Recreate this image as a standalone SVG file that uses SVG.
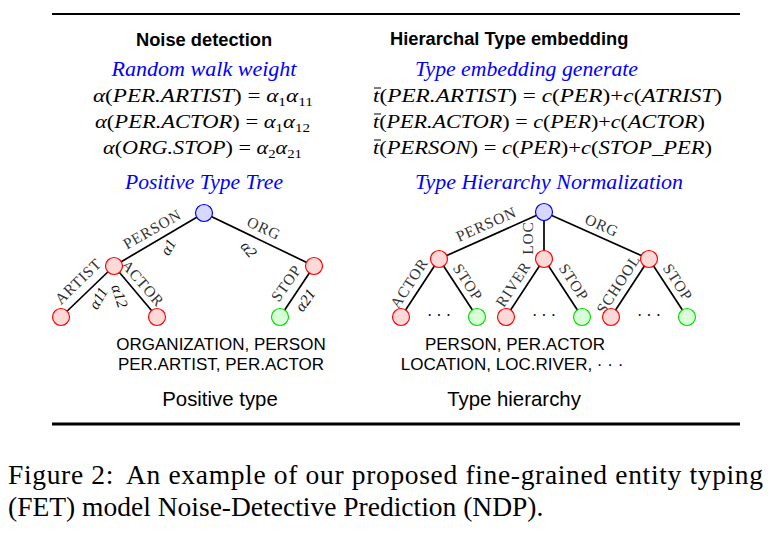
<svg xmlns="http://www.w3.org/2000/svg" width="776" height="536" viewBox="0 0 776 536">
<style>
.hd{font-family:"Liberation Sans",Arial,sans-serif;font-weight:bold;font-size:18.3px;fill:#000}
.bl{font-family:"Liberation Serif","Times New Roman",serif;font-style:italic;font-size:21px;fill:#0000ff}
.eq{font-family:"Liberation Serif","Times New Roman",serif;font-style:italic;font-size:19.5px;fill:#000}
.n{font-style:normal}
.sb{font-size:13px;font-style:normal}
.el{font-family:"Liberation Serif","Times New Roman",serif;font-size:15.5px;letter-spacing:0.8px;fill:#333;text-anchor:middle;dominant-baseline:central}
.al{font-family:"Liberation Serif","Times New Roman",serif;font-style:italic;font-size:15.5px;fill:#111;text-anchor:middle;dominant-baseline:central}
.lb{font-family:"Liberation Sans",Arial,sans-serif;font-size:17px;fill:#000;text-anchor:middle}
.lb2{font-family:"Liberation Sans",Arial,sans-serif;font-size:20.4px;fill:#000;text-anchor:middle}
.cap{font-family:"Liberation Serif","Times New Roman",serif;font-size:27.5px;fill:#000}
.edge{stroke:#000;stroke-width:1.7;fill:none}
.rule{stroke:#000;fill:none}
.r{fill:#ffd8d8;stroke:#ff0000;stroke-width:1.2}
.b{fill:#d8d8ff;stroke:#0000ff;stroke-width:1.2}
.g{fill:#d8ffd8;stroke:#00dd00;stroke-width:1.2}
.dots{font-family:"Liberation Serif",serif;font-size:16px;fill:#000;text-anchor:middle}
</style>

<g id="rules">
<line class="rule" x1="52" y1="14" x2="740" y2="14" stroke-width="2"/>
<line class="rule" x1="52" y1="424" x2="740" y2="424" stroke-width="3"/>
</g>

<g id="headings">
<text class="hd" x="204" y="46" text-anchor="middle">Noise detection</text>
<text class="hd" x="390" y="45">Hierarchal Type embedding</text>
<text class="bl" x="204" y="76" text-anchor="middle" textLength="185" lengthAdjust="spacingAndGlyphs">Random walk weight</text>
<text class="bl" x="204" y="189" text-anchor="middle" textLength="158" lengthAdjust="spacingAndGlyphs">Positive Type Tree</text>
<text class="bl" x="415" y="76" textLength="223" lengthAdjust="spacingAndGlyphs">Type embedding generate</text>
<text class="bl" x="415" y="189" textLength="268" lengthAdjust="spacingAndGlyphs">Type Hierarchy Normalization</text>
</g>

<g id="equations">
<text class="eq" x="93" y="102" textLength="220" lengthAdjust="spacingAndGlyphs">α<tspan class="n">(</tspan>PER.ARTIST<tspan class="n">) = </tspan>α<tspan class="sb" dy="4">1</tspan><tspan dy="-4">α</tspan><tspan class="sb" dy="4">11</tspan></text>
<text class="eq" x="95" y="128" textLength="215" lengthAdjust="spacingAndGlyphs">α<tspan class="n">(</tspan>PER.ACTOR<tspan class="n">) = </tspan>α<tspan class="sb" dy="4">1</tspan><tspan dy="-4">α</tspan><tspan class="sb" dy="4">12</tspan></text>
<text class="eq" x="103" y="154" textLength="199" lengthAdjust="spacingAndGlyphs">α<tspan class="n">(</tspan>ORG.STOP<tspan class="n">) = </tspan>α<tspan class="sb" dy="4">2</tspan><tspan dy="-4">α</tspan><tspan class="sb" dy="4">21</tspan></text>

<text class="eq" x="373" y="102" textLength="349" lengthAdjust="spacingAndGlyphs">t<tspan class="n">(</tspan>PER.ARTIST<tspan class="n">) = </tspan>c<tspan class="n">(</tspan>PER<tspan class="n">)+</tspan>c<tspan class="n">(</tspan>ATRIST<tspan class="n">)</tspan></text>
<text class="eq" x="373" y="128" textLength="332" lengthAdjust="spacingAndGlyphs">t<tspan class="n">(</tspan>PER.ACTOR<tspan class="n">) = </tspan>c<tspan class="n">(</tspan>PER<tspan class="n">)+</tspan>c<tspan class="n">(</tspan>ACTOR<tspan class="n">)</tspan></text>
<text class="eq" x="373" y="154" textLength="339" lengthAdjust="spacingAndGlyphs">t<tspan class="n">(</tspan>PERSON<tspan class="n">) = </tspan>c<tspan class="n">(</tspan>PER<tspan class="n">)+</tspan>c<tspan class="n">(</tspan>STOP_PER<tspan class="n">)</tspan></text>
<line x1="374" y1="88" x2="381" y2="88" stroke="#000" stroke-width="1"/>
<line x1="374" y1="114" x2="381" y2="114" stroke="#000" stroke-width="1"/>
<line x1="374" y1="140" x2="381" y2="140" stroke="#000" stroke-width="1"/>
</g>

<g id="connectors">
<line class="edge" x1="204" y1="213" x2="114" y2="266"/>
<line class="edge" x1="204" y1="213" x2="314" y2="266"/>
<line class="edge" x1="114" y1="266" x2="61" y2="317"/>
<line class="edge" x1="114" y1="266" x2="157" y2="317"/>
<line class="edge" x1="314" y1="266" x2="280" y2="317"/>

<line class="edge" x1="544" y1="212" x2="439" y2="259"/>
<line class="edge" x1="544" y1="212" x2="544" y2="259"/>
<line class="edge" x1="544" y1="212" x2="649" y2="259"/>
<line class="edge" x1="439" y1="259" x2="401" y2="317"/>
<line class="edge" x1="439" y1="259" x2="477" y2="317"/>
<line class="edge" x1="544" y1="259" x2="506" y2="317"/>
<line class="edge" x1="544" y1="259" x2="582" y2="317"/>
<line class="edge" x1="649" y1="259" x2="611" y2="317"/>
<line class="edge" x1="649" y1="259" x2="687" y2="317"/>
</g>

<g id="edge-labels">
<text class="el" transform="translate(152,229) rotate(-30)">PERSON</text>
<text class="al" transform="translate(168,247) rotate(-60)">α1</text>
<text class="el" transform="translate(264,228) rotate(25)">ORG</text>
<text class="al" transform="translate(249,249) rotate(50)">α2</text>
<text class="el" transform="translate(78,281) rotate(-44)">ARTIST</text>
<text class="al" transform="translate(98,298) rotate(-60)">α11</text>
<text class="el" transform="translate(143,283) rotate(49)">ACTOR</text>
<text class="al" transform="translate(120,296) rotate(72)">α12</text>
<text class="el" transform="translate(286,283) rotate(-55)">STOP</text>
<text class="al" transform="translate(305,300) rotate(-55)">α21</text>

<text class="el" transform="translate(486,224) rotate(-24)">PERSON</text>
<text class="el" transform="translate(527,238) rotate(-90)">LOC</text>
<text class="el" transform="translate(602,225) rotate(24)">ORG</text>
<text class="el" transform="translate(409,283) rotate(-57)">ACTOR</text>
<text class="el" transform="translate(468,282) rotate(57)">STOP</text>
<text class="el" transform="translate(513,284) rotate(-57)">RIVER</text>
<text class="el" transform="translate(574,282) rotate(57)">STOP</text>
<text class="el" transform="translate(618,284) rotate(-57)">SCHOOL</text>
<text class="el" transform="translate(678,282) rotate(57)">STOP</text>
</g>

<g id="n-L0"><circle class="b" cx="204" cy="213" r="8.5"/></g>
<g id="n-L1"><circle class="r" cx="114" cy="266" r="8.5"/></g>
<g id="n-L2"><circle class="r" cx="314" cy="266" r="8.5"/></g>
<g id="n-L11"><circle class="r" cx="61" cy="317" r="8.5"/></g>
<g id="n-L12"><circle class="r" cx="157" cy="317" r="8.5"/></g>
<g id="n-L21"><circle class="g" cx="280" cy="317" r="8.5"/></g>

<g id="n-R0"><circle class="b" cx="544" cy="212" r="8.5"/></g>
<g id="n-R1"><circle class="r" cx="439" cy="259" r="8.5"/></g>
<g id="n-R2"><circle class="r" cx="544" cy="259" r="8.5"/></g>
<g id="n-R3"><circle class="r" cx="649" cy="259" r="8.5"/></g>
<g id="n-R11"><circle class="r" cx="401" cy="317" r="8.5"/></g>
<g id="n-R12"><circle class="g" cx="477" cy="317" r="8.5"/></g>
<g id="n-R21"><circle class="r" cx="506" cy="317" r="8.5"/></g>
<g id="n-R22"><circle class="g" cx="582" cy="317" r="8.5"/></g>
<g id="n-R31"><circle class="r" cx="611" cy="317" r="8.5"/></g>
<g id="n-R32"><circle class="g" cx="687" cy="317" r="8.5"/></g>

<g id="dots">
<text class="dots" x="439" y="321">· · ·</text>
<text class="dots" x="544" y="321">· · ·</text>
<text class="dots" x="649" y="321">· · ·</text>
</g>

<g id="labels">
<text class="lb" x="221" y="350">ORGANIZATION, PERSON</text>
<text class="lb" x="221" y="370">PER.ARTIST, PER.ACTOR</text>
<text class="lb" x="515" y="350">PERSON, PER.ACTOR</text>
<text class="lb" x="512" y="370">LOCATION, LOC.RIVER, · · ·</text>
<text class="lb2" x="220" y="406">Positive type</text>
<text class="lb2" x="514" y="406">Type hierarchy</text>
</g>

<g id="caption">
<text class="cap" x="8" y="484" textLength="755" lengthAdjust="spacing">Figure 2:<tspan dx="12">An example of our proposed fine-grained entity typing</tspan></text>
<text class="cap" x="8" y="516">(FET) model Noise-Detective Prediction (NDP).</text>
</g>
</svg>
